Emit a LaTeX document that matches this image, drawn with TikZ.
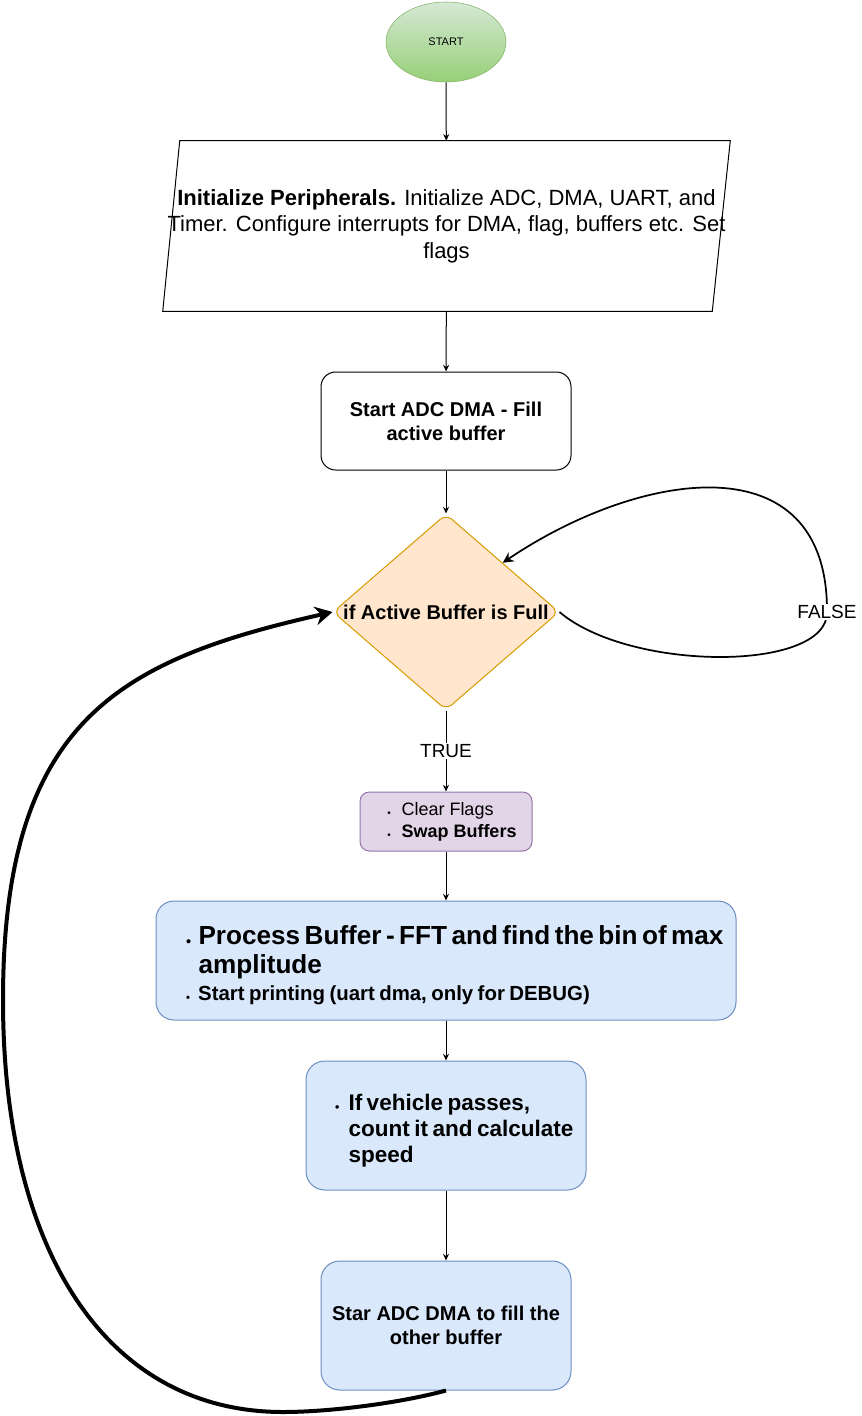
\documentclass[tikz,border=0pt]{standalone}
\usepackage{fontspec}
\setmainfont{Liberation Sans}
\usepackage{graphicx}
\usetikzlibrary{calc, shapes.geometric, arrows.meta}

\definecolor{greenTop}{HTML}{D5E8D4}
\definecolor{greenBot}{HTML}{97D077}
\definecolor{greenLine}{HTML}{82B366}
\definecolor{orangeFill}{HTML}{FFE6CC}
\definecolor{orangeLine}{HTML}{D79B00}
\definecolor{purpleFill}{HTML}{E1D5E7}
\definecolor{purpleLine}{HTML}{9673A6}
\definecolor{blueFill}{HTML}{DAE8FC}
\definecolor{blueLine}{HTML}{6C8EBF}

\newcommand{\bul}{\raisebox{-0.05em}{\scalebox{0.55}{\textbullet}}}
\newcommand{\bitem}[2]{\par\hangindent=#1\hangafter=1\noindent\makebox[#1][l]{\bul}#2}

\tikzset{
    flow/.style={-{Stealth[length=5pt,width=4.5pt]}, line width=0.75pt},
    falseln/.style={-{Stealth[length=8pt,width=8pt]}, line width=1.3pt},
    backln/.style={-{Stealth[length=13pt,width=14pt]}, line width=3pt},
    lbl/.style={fill=white, inner sep=1pt, font=\fontsize{14.25}{17}\selectfont},
    bluebox/.style={rectangle, rounded corners=#1, draw=blueLine, fill=blueFill, line width=0.75pt},
}

\begin{document}
\begin{tikzpicture}[x=0.75pt, y=0.75pt]
    \useasboundingbox (0,0) rectangle (861,-1416);

    \node[ellipse, draw=greenLine, top color=greenTop, bottom color=greenBot,
          minimum width=90pt, minimum height=60pt,
          font=\fontsize{8.25}{10}\selectfont] (start) at (446,-42) {START};

    \node[minimum width=425.25pt, minimum height=127.5pt, inner sep=0pt, align=center,
          font=\fontsize{16.5}{19.9}\selectfont] (init) at (446.5,-226)
        {\textbf{Initialize Peripherals.} Initialize ADC, DMA, UART, and\\
         Timer. Configure interrupts for DMA, flag, buffers etc. Set\\
         flags};
    \draw[line width=0.75pt] ($(init.north west)+(17,0)$) -- (init.north east)
        -- ($(init.south east)+(-18,0)$) -- (init.south west) -- cycle;

    \node[rectangle, rounded corners=11pt, draw, line width=0.75pt,
          minimum width=187.5pt, minimum height=73.5pt, align=center,
          font=\fontsize{15}{18}\selectfont\bfseries] (sadc) at (446,-421)
        {Start ADC DMA - Fill\\active buffer};

    \node[diamond, rounded corners=6pt, draw=orangeLine, fill=orangeFill, line width=0.75pt,
          shape aspect=1.15, inner sep=0pt, minimum width=169.5pt, minimum height=147pt,
          font=\fontsize{15}{18}\selectfont\bfseries] (dec) at (446,-612)
        {if Active Buffer is Full};

    \node[rectangle, rounded corners=7pt, draw=purpleLine, fill=purpleFill, line width=0.75pt,
          minimum width=129pt, minimum height=44.25pt, align=left,
          font=\fontsize{13.5}{16.5}\selectfont] (clr) at (446,-821.5)
        {\hspace*{9pt}\makebox[0.78em][l]{\bul}Clear Flags\\
         \hspace*{9pt}\makebox[0.78em][l]{\bul}\textbf{Swap Buffers}};

    \node[bluebox=13.5pt, minimum width=435pt, minimum height=89.25pt, inner xsep=0pt,
          text width=433.5pt, align=left] (proc) at (446,-960.5)
        {\leftskip=21.75pt
         {\fontsize{19.6}{21.75}\selectfont\bfseries
          \bitem{0.48em}{Process Buffer - FFT and find the bin of max\newline amplitude}\par}
         {\fontsize{15.3}{20.25}\selectfont\bfseries
          \bitem{0.6em}{Start printing (uart dma, only for DEBUG)}\par}};

    \node[bluebox=14pt, minimum width=210pt, minimum height=96.75pt, inner xsep=0pt,
          text width=201pt, align=left] (veh) at (446,-1125.5)
        {\leftskip=17.25pt
         {\fontsize{16.9}{19.5}\selectfont\bfseries
          \bitem{0.6em}{If vehicle passes,\newline count it and calculate\newline speed}\par}
         \vspace*{4.5pt}};

    \node[bluebox=14pt, minimum width=187.5pt, minimum height=96.75pt, align=center,
          font=\fontsize{15}{18}\selectfont\bfseries] (oth) at (446,-1325.5)
        {Star ADC DMA to fill the\\other buffer};

    \draw[flow] (start) -- (init);
    \draw[flow] (init) -- (sadc);
    \draw[flow] (sadc) -- (dec);
    \draw[flow] (dec) -- node[lbl] (true) {TRUE} (clr);
    \draw[flow] (clr) -- (proc);
    \draw[flow] (proc) -- (veh);
    \draw[flow] (veh) -- (oth);

    \coordinate (fpt) at (827,-612);
    \draw[falseln] (dec.east) .. controls (630,-672) and (828,-672) .. (fpt)
        node[lbl] (false) {FALSE}
        .. controls (828,-440) and (640,-470) .. (dec.north east);

    \coordinate (loopB) at (283,-1412);
    \coordinate (loopL) at (3,-1000);
    \draw[backln] (oth.south) .. controls (400,-1403) and (330,-1412) .. (loopB)
        .. controls (109,-1412) and (3,-1255) .. (loopL)
        .. controls (3,-720) and (120,-660) .. (dec.west);
\end{tikzpicture}
\end{document}
